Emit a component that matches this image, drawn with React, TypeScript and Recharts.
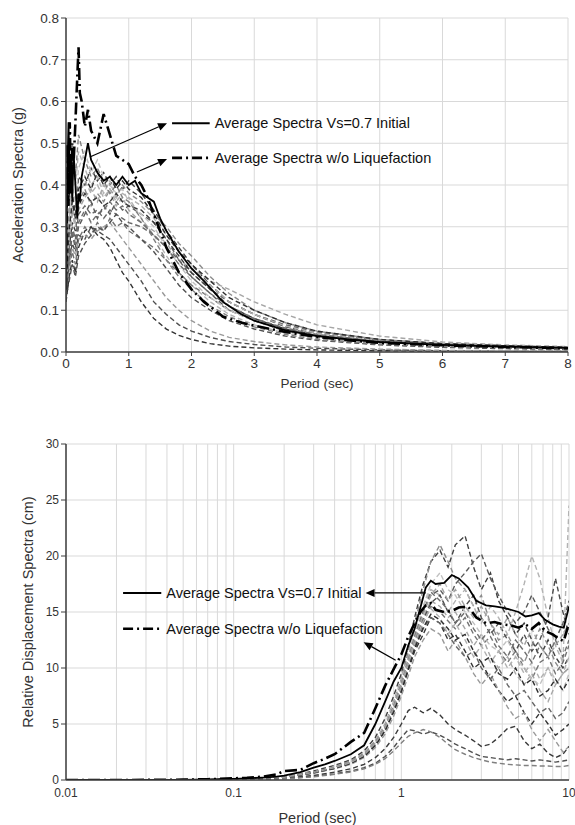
import React from 'react';
import { LineChart, Line, XAxis, YAxis, CartesianGrid, ReferenceLine, ReferenceArea, Label } from 'recharts';

// ---------- Top chart: acceleration spectra ----------
const ACC_T_AVG = [0, 0.02, 0.04, 0.06, 0.08, 0.1, 0.12, 0.15, 0.18, 0.2, 0.22, 0.25, 0.3, 0.35, 0.4, 0.5, 0.6, 0.7, 0.8, 0.9, 1.0, 1.1, 1.2, 1.3, 1.4, 1.5, 1.6, 1.8, 2.0, 2.2, 2.5, 2.8, 3.0, 3.5, 4.0, 4.5, 5.0, 6.0, 7.0, 8.0];
const ACC_AVG_INITIAL = [0.15, 0.42, 0.55, 0.40, 0.47, 0.36, 0.48, 0.40, 0.32, 0.38, 0.36, 0.42, 0.46, 0.50, 0.46, 0.43, 0.41, 0.42, 0.40, 0.42, 0.40, 0.41, 0.38, 0.37, 0.36, 0.32, 0.29, 0.24, 0.20, 0.17, 0.12, 0.09, 0.075, 0.052, 0.038, 0.03, 0.024, 0.017, 0.013, 0.01];
const ACC_AVG_NOLIQ = [0.15, 0.50, 0.35, 0.55, 0.38, 0.50, 0.45, 0.55, 0.66, 0.73, 0.62, 0.60, 0.54, 0.58, 0.53, 0.50, 0.57, 0.52, 0.47, 0.46, 0.45, 0.42, 0.40, 0.37, 0.33, 0.29, 0.25, 0.19, 0.15, 0.12, 0.085, 0.07, 0.063, 0.048, 0.036, 0.028, 0.022, 0.016, 0.012, 0.009];
const ACC_T_REC = [0, 0.05, 0.1, 0.15, 0.2, 0.3, 0.4, 0.5, 0.6, 0.7, 0.8, 0.9, 1.0, 1.2, 1.4, 1.6, 1.8, 2.0, 2.3, 2.6, 3.0, 3.5, 4, 5, 6, 7, 8];
const ACC_RECORDS = [
  [0.16, 0.30, 0.38, 0.33, 0.42, 0.40, 0.44, 0.41, 0.43, 0.40, 0.42, 0.39, 0.41, 0.38, 0.34, 0.29, 0.25, 0.21, 0.16, 0.12, 0.09, 0.06, 0.045, 0.028, 0.018, 0.013, 0.010],
  [0.15, 0.26, 0.34, 0.30, 0.36, 0.39, 0.35, 0.38, 0.36, 0.39, 0.37, 0.40, 0.38, 0.36, 0.33, 0.30, 0.26, 0.23, 0.18, 0.14, 0.10, 0.07, 0.05, 0.03, 0.02, 0.014, 0.011],
  [0.14, 0.22, 0.28, 0.25, 0.30, 0.33, 0.36, 0.32, 0.35, 0.33, 0.36, 0.34, 0.35, 0.33, 0.31, 0.27, 0.22, 0.18, 0.14, 0.10, 0.075, 0.05, 0.036, 0.022, 0.015, 0.011, 0.008],
  [0.17, 0.32, 0.45, 0.40, 0.48, 0.44, 0.40, 0.42, 0.38, 0.41, 0.37, 0.36, 0.37, 0.32, 0.28, 0.23, 0.19, 0.16, 0.12, 0.09, 0.065, 0.045, 0.033, 0.02, 0.014, 0.01, 0.008],
  [0.13, 0.20, 0.24, 0.21, 0.27, 0.30, 0.28, 0.31, 0.29, 0.32, 0.30, 0.31, 0.29, 0.27, 0.25, 0.22, 0.19, 0.16, 0.13, 0.10, 0.08, 0.055, 0.04, 0.025, 0.017, 0.012, 0.009],
  [0.15, 0.28, 0.35, 0.31, 0.34, 0.37, 0.39, 0.36, 0.40, 0.38, 0.35, 0.37, 0.34, 0.31, 0.29, 0.26, 0.22, 0.20, 0.17, 0.15, 0.12, 0.09, 0.065, 0.038, 0.024, 0.017, 0.013],
  [0.12, 0.18, 0.22, 0.19, 0.25, 0.29, 0.30, 0.28, 0.27, 0.25, 0.22, 0.19, 0.17, 0.12, 0.08, 0.055, 0.04, 0.03, 0.02, 0.014, 0.01, 0.007, 0.005, 0.003, 0.002, 0.002, 0.001],
  [0.13, 0.22, 0.26, 0.24, 0.28, 0.27, 0.30, 0.29, 0.28, 0.27, 0.25, 0.23, 0.21, 0.17, 0.12, 0.09, 0.065, 0.05, 0.035, 0.025, 0.018, 0.012, 0.009, 0.005, 0.003, 0.002, 0.002],
  [0.14, 0.21, 0.25, 0.23, 0.27, 0.28, 0.27, 0.29, 0.30, 0.31, 0.29, 0.27, 0.25, 0.21, 0.17, 0.13, 0.10, 0.075, 0.05, 0.035, 0.025, 0.017, 0.012, 0.007, 0.004, 0.003, 0.002],
  [0.16, 0.30, 0.40, 0.36, 0.44, 0.48, 0.43, 0.46, 0.42, 0.40, 0.38, 0.39, 0.36, 0.33, 0.30, 0.25, 0.21, 0.17, 0.13, 0.10, 0.075, 0.052, 0.038, 0.024, 0.016, 0.012, 0.009],
  [0.14, 0.24, 0.30, 0.27, 0.33, 0.35, 0.33, 0.34, 0.32, 0.34, 0.33, 0.32, 0.31, 0.30, 0.28, 0.25, 0.22, 0.19, 0.15, 0.12, 0.09, 0.065, 0.048, 0.03, 0.02, 0.015, 0.011],
  [0.15, 0.25, 0.31, 0.29, 0.35, 0.38, 0.36, 0.37, 0.35, 0.36, 0.38, 0.36, 0.35, 0.34, 0.31, 0.27, 0.23, 0.19, 0.15, 0.11, 0.08, 0.055, 0.04, 0.024, 0.016, 0.012, 0.009],
  [0.13, 0.17, 0.21, 0.18, 0.23, 0.26, 0.28, 0.30, 0.29, 0.31, 0.33, 0.31, 0.30, 0.27, 0.24, 0.20, 0.16, 0.13, 0.10, 0.075, 0.055, 0.038, 0.028, 0.017, 0.011, 0.008, 0.006],
  [0.16, 0.35, 0.50, 0.42, 0.52, 0.46, 0.42, 0.44, 0.41, 0.38, 0.40, 0.37, 0.36, 0.32, 0.27, 0.22, 0.18, 0.15, 0.11, 0.085, 0.06, 0.042, 0.03, 0.019, 0.013, 0.01, 0.007],
  [0.15, 0.27, 0.33, 0.30, 0.37, 0.41, 0.38, 0.40, 0.37, 0.39, 0.36, 0.38, 0.37, 0.35, 0.32, 0.28, 0.24, 0.20, 0.16, 0.12, 0.09, 0.062, 0.045, 0.027, 0.018, 0.013, 0.01],
  [0.14, 0.23, 0.29, 0.26, 0.31, 0.34, 0.31, 0.33, 0.34, 0.36, 0.34, 0.35, 0.33, 0.31, 0.28, 0.25, 0.21, 0.18, 0.14, 0.11, 0.08, 0.057, 0.042, 0.026, 0.017, 0.012, 0.009],
  [0.16, 0.29, 0.36, 0.32, 0.39, 0.42, 0.39, 0.43, 0.40, 0.42, 0.39, 0.41, 0.39, 0.37, 0.33, 0.28, 0.24, 0.21, 0.17, 0.13, 0.1, 0.07, 0.05, 0.03, 0.02, 0.015, 0.011],
];
const ACC_Y_TICKS = [0, 0.1, 0.2, 0.3, 0.4, 0.5, 0.6, 0.7, 0.8];
const ACC_X_TICKS = [0, 1, 2, 3, 4, 5, 6, 7, 8];

// ---------- Bottom chart: displacement spectra ----------
const DIS_T_AVG = [0.01, 0.02, 0.03, 0.05, 0.07, 0.1, 0.12, 0.15, 0.18, 0.2, 0.25, 0.3, 0.35, 0.4, 0.5, 0.6, 0.7, 0.8, 0.9, 1.0, 1.1, 1.2, 1.3, 1.4, 1.5, 1.6, 1.8, 2.0, 2.2, 2.5, 2.8, 3.2, 3.6, 4.0, 4.5, 5.0, 5.5, 6.0, 6.6, 7.2, 8.0, 8.7, 9.3, 10];
const DIS_AVG_INITIAL = [0, 0, 0.01, 0.02, 0.05, 0.1, 0.15, 0.22, 0.3, 0.4, 0.7, 1.1, 1.4, 1.7, 2.3, 3.1, 5.0, 7.0, 8.8, 10.0, 12.0, 13.5, 15.4, 17.2, 17.8, 17.5, 17.6, 18.3, 18.0, 17.2, 16.0, 15.6, 15.5, 15.4, 15.2, 15.0, 14.6, 14.7, 14.9, 14.3, 13.9, 13.7, 13.6, 15.5];
const DIS_AVG_NOLIQ = [0, 0, 0.01, 0.03, 0.07, 0.15, 0.2, 0.3, 0.5, 0.8, 0.9, 1.5, 1.9, 2.3, 3.4, 4.2, 6.4, 8.4, 9.9, 11.2, 12.8, 14.0, 15.0, 15.6, 15.8, 15.2, 15.0, 15.1, 15.4, 15.5, 14.5, 14.0, 14.1, 13.9, 13.8, 13.6, 13.9, 13.5, 14.0, 13.3, 13.0, 12.6, 12.4, 14.0];
const DIS_T_REC = [0.01, 0.05, 0.1, 0.2, 0.3, 0.4, 0.5, 0.6, 0.7, 0.8, 0.9, 1.0, 1.1, 1.2, 1.35, 1.5, 1.7, 1.9, 2.1, 2.4, 2.7, 3.0, 3.4, 3.8, 4.3, 4.8, 5.4, 6.0, 6.7, 7.5, 8.3, 9.2, 10];
const DIS_RECORDS = [
  [0, 0.01, 0.06, 0.3, 0.8, 1.3, 1.8, 2.6, 3.8, 5.5, 7.5, 9.5, 12, 14.5, 17.5, 19.5, 20.5, 19, 21, 21.8, 19, 17, 18.5, 16, 14.5, 13, 14, 12.5, 11, 12.5, 11, 10, 11],
  [0, 0.01, 0.05, 0.28, 0.7, 1.2, 1.7, 2.4, 3.5, 5, 7, 9, 11.5, 14, 17, 19.5, 21, 19.5, 18, 17, 15.5, 16.5, 14, 12.5, 13, 11.5, 10.5, 12, 13.5, 12, 10.5, 9.5, 10],
  [0, 0.01, 0.05, 0.25, 0.7, 1.1, 1.6, 2.3, 3.3, 4.8, 6.8, 8.8, 11, 13, 15, 16.5, 17, 16, 17.5, 18.5, 19.5, 20.2, 18, 16.5, 15, 14, 15, 16.5, 15, 13.5, 12.5, 14, 16],
  [0, 0.01, 0.05, 0.26, 0.7, 1.15, 1.6, 2.3, 3.4, 4.9, 6.9, 8.9, 11, 13.2, 15.5, 17, 16.5, 15, 16, 17, 15.5, 14, 15.5, 14.5, 13, 15, 17.5, 20, 18, 14.5, 12, 10.5, 24.5],
  [0, 0.01, 0.05, 0.24, 0.65, 1.05, 1.5, 2.2, 3.2, 4.5, 6.3, 8.2, 10.2, 12, 14, 15.5, 15, 14.2, 13.5, 14.5, 13, 12, 12.8, 11.5, 10.5, 11.5, 10, 9, 10.5, 11, 9.5, 10.5, 12],
  [0, 0.01, 0.05, 0.25, 0.68, 1.1, 1.55, 2.25, 3.3, 4.7, 6.5, 8.4, 10.5, 12.5, 14.5, 16, 15.5, 14.5, 15, 13.5, 12, 13, 11, 10, 11, 9.5, 8.5, 9.5, 8, 7, 8.5, 9.5, 10],
  [0, 0.01, 0.05, 0.24, 0.65, 1.05, 1.5, 2.1, 3.1, 4.4, 6.1, 7.9, 9.8, 11.5, 13, 14.5, 14, 12.5, 13, 11.5, 10, 10.5, 9, 8, 7, 7.5, 6, 5, 6, 5, 4, 4.5, 5],
  [0, 0.01, 0.05, 0.25, 0.66, 1.1, 1.55, 2.2, 3.2, 4.6, 6.4, 8.3, 10.4, 12.3, 14.3, 15.8, 16.5, 15, 14, 15.5, 16.5, 14.5, 13, 14, 12.5, 11.5, 13, 11.5, 12.5, 14.5, 18, 15, 13],
  [0, 0.01, 0.04, 0.22, 0.6, 1, 1.4, 2, 2.9, 4.1, 5.7, 7.5, 9.3, 11, 12.5, 13.5, 13, 11.5, 12.5, 11, 9.5, 8.5, 9.5, 8, 6.5, 5.5, 6, 4.5, 3.5, 4.5, 3.5, 2.5, 3],
  [0, 0.01, 0.05, 0.26, 0.7, 1.15, 1.6, 2.3, 3.4, 4.8, 6.7, 8.7, 10.8, 13, 15.5, 17.5, 18.5, 17, 16.5, 15, 14, 13, 12, 11.5, 12.5, 11, 10, 9, 8.5, 10, 9, 8, 9.5],
  [0, 0.01, 0.05, 0.24, 0.66, 1.08, 1.5, 2.15, 3.15, 4.5, 6.2, 8, 10, 11.8, 13.5, 14.5, 14, 13, 12, 11, 11.5, 10, 9, 10, 8.5, 7.5, 8, 7, 6, 6.5, 5.5, 6, 7],
  [0, 0, 0.03, 0.15, 0.4, 0.7, 1, 1.4, 2, 2.8, 3.8, 5, 6.2, 6.5, 6, 6.4, 5.8, 5, 4.5, 4, 3.5, 3, 3.2, 3.8, 4.6, 4.8, 3.5, 2.8, 3.2, 2.4, 2, 2.3, 3],
  [0, 0, 0.02, 0.12, 0.32, 0.55, 0.8, 1.1, 1.5, 2.1, 2.9, 3.8, 4.5, 4.4, 4.1, 4.3, 4, 3.6, 3.2, 2.8, 2.4, 2.1, 2, 1.9, 1.8, 1.9, 1.8, 1.7, 1.8, 1.7, 1.6, 1.7, 1.8],
  [0, 0, 0.02, 0.1, 0.28, 0.5, 0.72, 1, 1.4, 1.9, 2.6, 3.3, 3.9, 4.2, 4.5, 4.3, 3.8, 3.2, 2.7, 2.3, 2, 1.8, 1.6, 1.5, 1.4, 1.35, 1.3, 1.3, 1.25, 1.25, 1.2, 1.2, 1.3],
  [0, 0.01, 0.05, 0.25, 0.67, 1.1, 1.55, 2.2, 3.25, 4.6, 6.4, 8.3, 10.3, 12.2, 14.2, 15.3, 14.5, 13, 14, 12.5, 11, 12, 10.5, 11.5, 10, 11, 9.5, 10.5, 9, 10, 8.5, 9.5, 11],
  [0, 0.01, 0.05, 0.26, 0.69, 1.12, 1.58, 2.28, 3.35, 4.75, 6.6, 8.6, 10.7, 12.8, 15, 16.8, 16, 15.2, 14, 15, 13.5, 12.5, 13.5, 12, 11, 12.5, 11.5, 10.5, 12, 11, 12.5, 11, 12.5],
  [0, 0.01, 0.05, 0.24, 0.64, 1.04, 1.48, 2.1, 3.1, 4.4, 6.1, 7.9, 9.9, 11.7, 13.6, 14.8, 14.3, 13.5, 12.5, 13, 11.5, 10.5, 11, 9.5, 9, 10, 8.5, 9, 7.5, 8, 9, 8, 9],
  [0, 0.01, 0.05, 0.25, 0.68, 1.1, 1.56, 2.25, 3.3, 4.7, 6.5, 8.5, 10.6, 12.6, 14.8, 16.5, 17.5, 16, 17, 15.5, 14.5, 15.5, 14, 13, 14.5, 13, 12, 13.5, 12, 11, 12, 13, 14],
];
const DIS_Y_TICKS = [0, 5, 10, 15, 20, 25, 30];
const DIS_X_TICKS = [0.01, 0.02, 0.03, 0.04, 0.05, 0.06, 0.07, 0.08, 0.09, 0.1, 0.2, 0.3, 0.4, 0.5, 0.6, 0.7, 0.8, 0.9, 1, 2, 3, 4, 5, 6, 7, 8, 9, 10];
const DIS_X_LABELED = [0.01, 0.1, 1, 10];

const LEGEND_INITIAL = 'Average Spectra Vs=0.7 Initial';
const LEGEND_NOLIQ = 'Average Spectra w/o Liquefaction';

const REC_COLORS = ['#404040', '#8c8c8c', '#595959', '#b3b3b3', '#737373', '#a6a6a6', '#333333', '#4d4d4d', '#999999', '#c0c0c0', '#666666', '#3a3a3a', '#505050', '#808080', '#b0b0b0', '#6e6e6e', '#2f2f2f', '#a0a0a0'];

const FONT = '"Liberation Sans", Arial, sans-serif';
const TEXT = '#333333';
const AXIS = '#3f3f3f';
const GRID = '#d9d9d9';
const DASH_DOT = '12 4 2 4';

const toPoints = (ts: number[], vs: number[], key: string) => ts.map((t, i) => ({ t, [key]: vs[i] }));

const Arrow = (p: any) => {
  const { x1, y1, x2, y2 } = p;
  const ang = Math.atan2(y2 - y1, x2 - x1);
  const L = 9, W = 4;
  const bx = x2 - L * Math.cos(ang), by = y2 - L * Math.sin(ang);
  const px = -Math.sin(ang) * W, py = Math.cos(ang) * W;
  return (
    <g>
      <line x1={x1} y1={y1} x2={bx} y2={by} stroke="#000" strokeWidth={1.2} />
      <polygon points={`${x2},${y2} ${bx + px},${by + py} ${bx - px},${by - py}`} fill="#000" />
    </g>
  );
};

const yLabel = (text: string, dx: number) => (props: any) => {
  const vb = props.viewBox;
  const cx = vb.x + dx;
  const cy = vb.y + vb.height / 2;
  return (
    <text x={cx} y={cy} transform={`rotate(-90 ${cx} ${cy})`} textAnchor="middle" dominantBaseline="central" fontSize={14.5} fill={TEXT} fontFamily={FONT}>
      {text}
    </text>
  );
};

const legendLabel = (value: string) => ({ value, position: 'right' as const, offset: 5, fill: '#111', fontSize: 14.5, fontFamily: FONT });

function AccChart() {
  return (
    <LineChart width={575} height={400} margin={{ top: 18, right: 7, bottom: 8, left: 16 }}>
      <CartesianGrid stroke={GRID} strokeWidth={1} />
      <XAxis dataKey="t" type="number" domain={[0, 8]} ticks={ACC_X_TICKS} allowDataOverflow height={40}
        tick={{ fill: TEXT, fontSize: 13.5 }} tickLine={{ stroke: AXIS }} tickSize={4} axisLine={{ stroke: AXIS, strokeWidth: 1.5 }}>
        <Label value="Period (sec)" position="insideBottom" offset={4} fill={TEXT} fontSize={13.5} />
      </XAxis>
      <YAxis type="number" domain={[0, 0.8]} ticks={ACC_Y_TICKS} allowDataOverflow width={50}
        tickFormatter={(v: number) => v.toFixed(1)} tick={{ fill: TEXT, fontSize: 13.5 }} tickLine={{ stroke: AXIS }} tickSize={5}
        axisLine={{ stroke: AXIS, strokeWidth: 1.5 }} label={{ content: yLabel('Acceleration Spectra  (g)', 2) } as any} />
      {ACC_RECORDS.map((rec, i) => (
        <Line key={`a${i}`} data={toPoints(ACC_T_REC, rec, `a${i}`)} dataKey={`a${i}`} type="linear" dot={false}
          stroke={REC_COLORS[i % REC_COLORS.length]} strokeWidth={1.4} strokeDasharray="5 3" isAnimationActive={false} />
      ))}
      <Line data={toPoints(ACC_T_AVG, ACC_AVG_NOLIQ, 'noliq')} dataKey="noliq" type="linear" dot={false} stroke="#000" strokeWidth={2.6} strokeDasharray={DASH_DOT} isAnimationActive={false} />
      <Line data={toPoints(ACC_T_AVG, ACC_AVG_INITIAL, 'init')} dataKey="init" type="linear" dot={false} stroke="#000" strokeWidth={1.8} isAnimationActive={false} />
      <ReferenceArea fill="none" stroke={AXIS} strokeWidth={1.2} ifOverflow="visible" />
      <ReferenceLine segment={[{ x: 1.69, y: 0.548 }, { x: 2.29, y: 0.548 }]} stroke="#000" strokeWidth={2} label={legendLabel(LEGEND_INITIAL)} />
      <ReferenceLine segment={[{ x: 1.69, y: 0.465 }, { x: 2.29, y: 0.465 }]} stroke="#000" strokeWidth={2.6} strokeDasharray="10 4 2 4" label={legendLabel(LEGEND_NOLIQ)} />
      <ReferenceLine segment={[{ x: 0.38, y: 0.467 }, { x: 1.61, y: 0.548 }]} shape={Arrow} />
      <ReferenceLine segment={[{ x: 1.13, y: 0.431 }, { x: 1.61, y: 0.462 }]} shape={Arrow} />
    </LineChart>
  );
}

function DisChart() {
  return (
    <LineChart width={575} height={425} margin={{ top: 44, right: 6, bottom: 0, left: 16 }}>
      <CartesianGrid stroke={GRID} strokeWidth={1} />
      <XAxis dataKey="t" type="number" scale="log" domain={[0.01, 10]} ticks={DIS_X_TICKS} allowDataOverflow height={45} interval={0}
        tickFormatter={(v: number) => (DIS_X_LABELED.includes(v) ? String(v) : '')}
        tick={{ fill: TEXT, fontSize: 12 }} tickLine={false} axisLine={{ stroke: AXIS, strokeWidth: 1.5 }}>
        <Label value="Period (sec)" position="insideBottom" offset={2} fill={TEXT} fontSize={14.5} />
      </XAxis>
      <YAxis type="number" domain={[0, 30]} ticks={DIS_Y_TICKS} allowDataOverflow width={50}
        tick={{ fill: TEXT, fontSize: 12 }} tickLine={{ stroke: AXIS }} tickSize={5}
        axisLine={{ stroke: AXIS, strokeWidth: 1.5 }} label={{ content: yLabel('Relative Displacement Spectra (cm)', 12) } as any} />
      {DIS_RECORDS.map((rec, i) => (
        <Line key={`d${i}`} data={toPoints(DIS_T_REC, rec, `d${i}`)} dataKey={`d${i}`} type="linear" dot={false}
          stroke={REC_COLORS[i % REC_COLORS.length]} strokeWidth={1.4} strokeDasharray="5 3" isAnimationActive={false} />
      ))}
      <Line data={toPoints(DIS_T_AVG, DIS_AVG_NOLIQ, 'noliq')} dataKey="noliq" type="linear" dot={false} stroke="#000" strokeWidth={2.6} strokeDasharray={DASH_DOT} isAnimationActive={false} />
      <Line data={toPoints(DIS_T_AVG, DIS_AVG_INITIAL, 'init')} dataKey="init" type="linear" dot={false} stroke="#000" strokeWidth={1.8} isAnimationActive={false} />
      <ReferenceArea fill="none" stroke={AXIS} strokeWidth={1.2} ifOverflow="visible" />
      <ReferenceLine segment={[{ x: 0.0219, y: 16.7 }, { x: 0.037, y: 16.7 }]} stroke="#000" strokeWidth={2} label={legendLabel(LEGEND_INITIAL)} />
      <ReferenceLine segment={[{ x: 0.0219, y: 13.5 }, { x: 0.037, y: 13.5 }]} stroke="#000" strokeWidth={2.6} strokeDasharray="10 4 2 4" label={legendLabel(LEGEND_NOLIQ)} />
      <ReferenceLine segment={[{ x: 1.4, y: 16.7 }, { x: 0.612, y: 16.7 }]} shape={Arrow} />
      <ReferenceLine segment={[{ x: 0.925, y: 10.7 }, { x: 0.596, y: 12.3 }]} shape={Arrow} />
    </LineChart>
  );
}

export default function App() {
  return (
    <div style={{ position: 'absolute', left: 0, top: 0, width: 575, height: 825, background: '#fff', fontFamily: FONT }}>
      <AccChart />
      <DisChart />
    </div>
  );
}
